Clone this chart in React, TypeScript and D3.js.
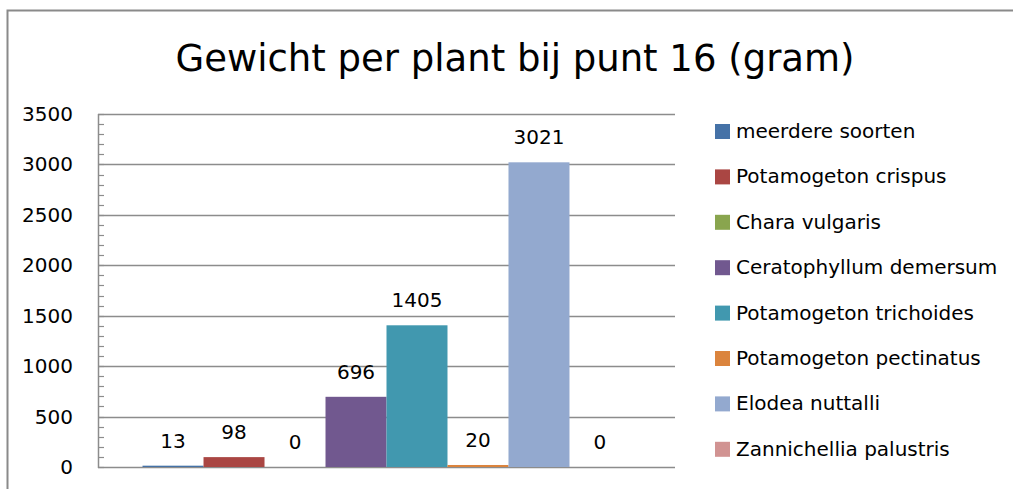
import React, { useEffect, useRef } from "react";
import * as d3 from "d3";

const species = [
  "meerdere soorten",
  "Potamogeton crispus",
  "Chara vulgaris",
  "Ceratophyllum demersum",
  "Potamogeton trichoides",
  "Potamogeton pectinatus",
  "Elodea nuttalli",
  "Zannichellia palustris",
];
const weights = [13, 98, 0, 696, 1405, 20, 3021, 0];
const colors = ["#4572A7", "#AA4643", "#89A54E", "#71588F", "#4198AF", "#DB843D", "#93A9CF", "#D19392"];
const yTicks = [0, 500, 1000, 1500, 2000, 2500, 3000, 3500];

const App = () => {
  const svgRef = useRef<SVGSVGElement>(null);

  useEffect(() => {
    const W = 1013;
    const H = 489;
    const left = 98, right = 675, top = 114, bottom = 467;
    const font = "DejaVu Sans, sans-serif";

    const svg = d3.select(svgRef.current).attr("width", W).attr("height", H);
    svg.selectAll("*").remove();

    svg.append("rect").attr("width", W).attr("height", H).attr("fill", "#fff");

    // chart frame (only left and top visible)
    svg.append("path")
      .attr("d", `M7.5,${H} V10.5 H${W}`)
      .attr("fill", "none")
      .attr("stroke", "#8a8a8a")
      .attr("stroke-width", 2);

    svg.append("text")
      .attr("x", 515)
      .attr("y", 71)
      .attr("text-anchor", "middle")
      .attr("font-family", font)
      .attr("font-size", 37)
      .attr("fill", "#000")
      .text("Gewicht per plant bij punt 16 (gram)");

    const y = d3.scaleLinear().domain([0, 3500]).range([bottom, top]);
    const x = d3.scaleBand<string>()
      .domain(species)
      .range([left, right])
      .paddingInner(0)
      .paddingOuter(0.73);

    // gridlines
    svg.append("g")
      .selectAll("line")
      .data(yTicks)
      .join("line")
      .attr("x1", left)
      .attr("x2", right)
      .attr("y1", (d) => Math.round(y(d)) + 0.5)
      .attr("y2", (d) => Math.round(y(d)) + 0.5)
      .attr("stroke", "#8c8c8c")
      .attr("stroke-width", 1.5);

    // minor ticks
    svg.append("g")
      .selectAll("line")
      .data(d3.range(0, 3501, 100))
      .join("line")
      .attr("x1", left)
      .attr("x2", left + 6)
      .attr("y1", (d) => Math.round(y(d)) + 0.5)
      .attr("y2", (d) => Math.round(y(d)) + 0.5)
      .attr("stroke", "#8c8c8c")
      .attr("stroke-width", 1.2);

    svg.append("line")
      .attr("x1", left + 0.5)
      .attr("x2", left + 0.5)
      .attr("y1", top)
      .attr("y2", bottom + 1)
      .attr("stroke", "#8c8c8c")
      .attr("stroke-width", 1.5);

    // tick labels
    svg.append("g")
      .selectAll("text")
      .data(yTicks)
      .join("text")
      .attr("x", 73)
      .attr("y", (d) => y(d) + 7)
      .attr("text-anchor", "end")
      .attr("font-family", font)
      .attr("font-size", 20)
      .text((d) => d);

    // bars
    svg.append("g")
      .selectAll("rect")
      .data(weights)
      .join("rect")
      .attr("x", (d, i) => x(species[i])!)
      .attr("y", (d) => y(d))
      .attr("width", x.bandwidth())
      .attr("height", (d) => bottom - y(d))
      .attr("fill", (d, i) => colors[i]);

    // data labels
    svg.append("g")
      .selectAll("text")
      .data(weights)
      .join("text")
      .attr("x", (d, i) => x(species[i])! + x.bandwidth() / 2)
      .attr("y", (d) => y(d) - 18)
      .attr("text-anchor", "middle")
      .attr("font-family", font)
      .attr("font-size", 20)
      .text((d) => d);

    // legend
    const legend = svg.append("g")
      .selectAll("g")
      .data(species)
      .join("g")
      .attr("transform", (d, i) => `translate(715,${131 + i * 45.4})`);

    legend.append("rect")
      .attr("x", 0)
      .attr("y", -7)
      .attr("width", 15)
      .attr("height", 15)
      .attr("fill", (d, i) => colors[i]);

    legend.append("text")
      .attr("x", 21)
      .attr("y", 7)
      .attr("font-family", font)
      .attr("font-size", 20)
      .text((d) => d);
  }, []);

  return <svg ref={svgRef} style={{ position: "absolute", left: 0, top: 0 }}></svg>;
};

export default App;
